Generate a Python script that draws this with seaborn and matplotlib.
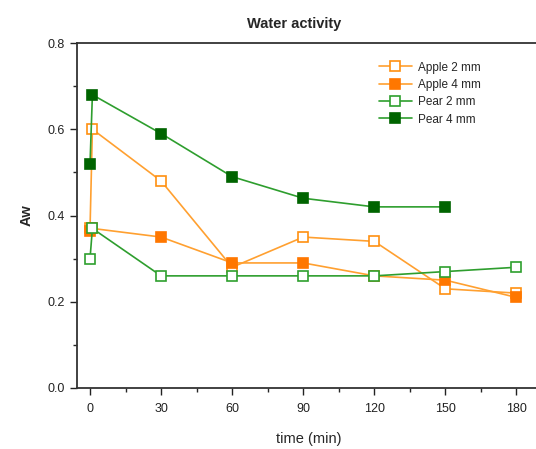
import matplotlib
matplotlib.use("Agg")
import matplotlib.pyplot as plt
import seaborn as sns
import pandas as pd
from matplotlib.ticker import MultipleLocator

sns.set_style("white")
plt.rcParams['font.family'] = ['Liberation Sans', 'DejaVu Sans']

series_names = ["Apple 2 mm", "Apple 4 mm", "Pear 2 mm", "Pear 4 mm"]
time_apple2 = [0, 1, 30, 60, 90, 120, 150, 180]
aw_apple2 = [0.37, 0.60, 0.48, 0.28, 0.35, 0.34, 0.23, 0.22]
time_apple4 = [0, 1, 30, 60, 90, 120, 150, 180]
aw_apple4 = [0.365, 0.37, 0.35, 0.29, 0.29, 0.26, 0.25, 0.21]
time_pear2 = [0, 1, 30, 60, 90, 120, 150, 180]
aw_pear2 = [0.30, 0.37, 0.26, 0.26, 0.26, 0.26, 0.27, 0.28]
time_pear4 = [0, 1, 30, 60, 90, 120, 150]
aw_pear4 = [0.52, 0.68, 0.59, 0.49, 0.44, 0.42, 0.42]

xticks = [0, 30, 60, 90, 120, 150, 180]
yticks = [0.0, 0.2, 0.4, 0.6, 0.8]

styles = [
    dict(color="#FFA030", markerfacecolor="white", markeredgecolor="#FF9010"),
    dict(color="#FFA030", markerfacecolor="#FF7700", markeredgecolor="#FF7700"),
    dict(color="#2E9E2E", markerfacecolor="white", markeredgecolor="#2EA02E"),
    dict(color="#2E9E2E", markerfacecolor="#006400", markeredgecolor="#006400"),
]
data = [(time_apple2, aw_apple2), (time_apple4, aw_apple4),
        (time_pear2, aw_pear2), (time_pear4, aw_pear4)]

fig = plt.figure(figsize=(5.36, 4.49), dpi=100)
ax = fig.add_axes([77/536, 1 - 388/449, 1 - 77/536 + 0.01, (388 - 43)/449])

for name, (t, v), st in zip(series_names, data, styles):
    df = pd.DataFrame({"time": t, "aw": v})
    sns.lineplot(data=df, x="time", y="aw", ax=ax, marker="s", markersize=7,
                 markeredgewidth=1.2, linewidth=1.2, label=name, sort=False,
                 errorbar=None, **st)

ax.set_xlim(-5.5, 190.5)
ax.set_ylim(0.0, 0.8)
ax.set_xticks(xticks)
ax.set_yticks(yticks)
ax.set_yticklabels([f"{y:.1f}" for y in yticks])
ax.xaxis.set_minor_locator(MultipleLocator(15))
ax.yaxis.set_minor_locator(MultipleLocator(0.1))
ax.tick_params(axis="both", which="major", direction="out", length=5, width=1,
               labelsize=9, colors="#222222", bottom=True, left=True, pad=4)
ax.tick_params(axis="x", which="major", pad=6)
ax.tick_params(axis="both", which="minor", direction="out", length=3, width=1,
               bottom=True, left=True)
for s in ["left", "top", "bottom"]:
    ax.spines[s].set_visible(True)
    ax.spines[s].set_color("#333333")
    ax.spines[s].set_linewidth(1.3)
ax.spines["right"].set_visible(False)

ax.set_xlabel("time (min)", fontsize=10.5, labelpad=12)
ax.set_ylabel("Aw", fontsize=10.5, fontweight="bold", labelpad=10)
ax.set_title("Water activity", fontsize=10.5, fontweight="bold", x=0.468, pad=11)

leg = ax.legend(loc="upper left", bbox_to_anchor=(368/536, 1 - 51/449),
                bbox_transform=fig.transFigure, frameon=False, fontsize=8.5,
                handlelength=2.8, labelspacing=0.45, handletextpad=0.5)

fig.savefig("out.png", dpi=100)
